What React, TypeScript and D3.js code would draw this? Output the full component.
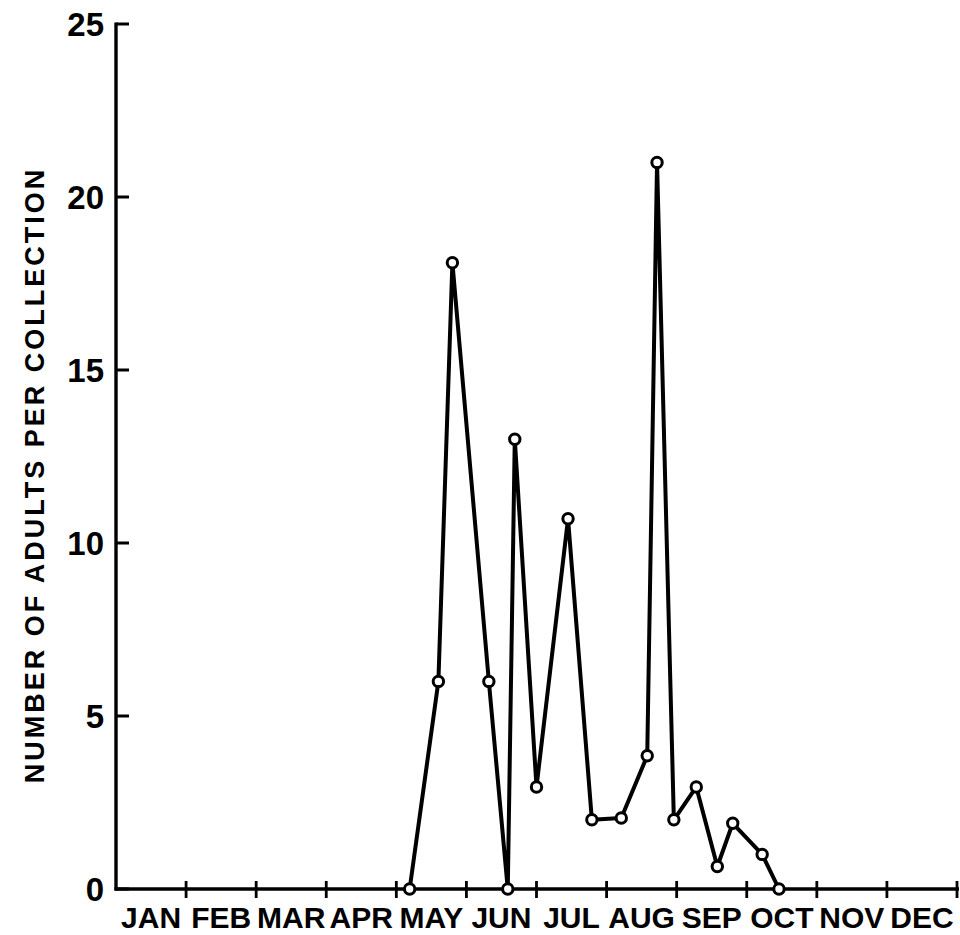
import React, { useEffect, useRef } from "react";
import * as d3 from "d3";

// Collection dates expressed in months since 1 January (0 = Jan 1, 12 = Dec 31)
const collectionMonth = [
  4.19, 4.6, 4.8, 5.32, 5.59, 5.69, 6.0, 6.45, 6.79, 7.21, 7.58, 7.72, 7.96,
  8.28, 8.58, 8.8, 9.22, 9.46,
];
// Number of adults per collection
const adultCount = [
  0, 6, 18.1, 6, 0, 13, 2.95, 10.7, 2, 2.05, 3.85, 21, 2, 2.95, 0.65, 1.9, 1, 0,
];
const monthLabels = [
  "JAN", "FEB", "MAR", "APR", "MAY", "JUN", "JUL", "AUG", "SEP", "OCT", "NOV", "DEC",
];
const yTicks = [0, 5, 10, 15, 20, 25];

const W = 960;
const H = 935;
const FONT = "'Liberation Sans', Arial, sans-serif";

export default function App() {
  const ref = useRef<SVGSVGElement | null>(null);

  useEffect(() => {
    const svg = d3.select(ref.current);
    svg.selectAll("*").remove();

    const x = d3.scaleLinear().domain([0, 12]).range([116, 957]);
    const y = d3.scaleLinear().domain([0, 25]).range([889, 24]);

    const g = svg.append("g");

    // Y axis line
    g.append("line")
      .attr("x1", x(0)).attr("x2", x(0))
      .attr("y1", y(25) - 1.5).attr("y2", y(0) + 1.5)
      .attr("stroke", "#000").attr("stroke-width", 3.4);

    // X axis line
    g.append("line")
      .attr("x1", x(0) - 1.5).attr("x2", x(12) + 2)
      .attr("y1", y(0)).attr("y2", y(0))
      .attr("stroke", "#000").attr("stroke-width", 3.4);

    // Y ticks (pointing inward) and labels
    yTicks.forEach((t) => {
      g.append("line")
        .attr("x1", x(0)).attr("x2", x(0) + 13)
        .attr("y1", y(t)).attr("y2", y(t))
        .attr("stroke", "#000").attr("stroke-width", 3);
      g.append("text")
        .attr("x", 104)
        .attr("y", y(t))
        .attr("dy", "0.36em")
        .attr("text-anchor", "end")
        .attr("font-family", FONT)
        .attr("font-weight", "bold")
        .attr("font-size", 33)
        .attr("fill", "#000")
        .text(String(t));
    });

    // X ticks at month boundaries (crossing the axis)
    d3.range(1, 13).forEach((m) => {
      g.append("line")
        .attr("x1", x(m)).attr("x2", x(m))
        .attr("y1", y(0) - 8).attr("y2", y(0) + 9)
        .attr("stroke", "#000").attr("stroke-width", 2.8);
    });

    // Month labels centred within each month
    monthLabels.forEach((lab, i) => {
      g.append("text")
        .attr("x", x(i + 0.5))
        .attr("y", 928)
        .attr("text-anchor", "middle")
        .attr("font-family", FONT)
        .attr("font-weight", "bold")
        .attr("font-size", 30)
        .attr("fill", "#000")
        .text(lab);
    });

    // Y axis title
    g.append("text")
      .attr("transform", `translate(44, 475) rotate(-90)`)
      .attr("text-anchor", "middle")
      .attr("font-family", FONT)
      .attr("font-weight", "bold")
      .attr("font-size", 27)
      .attr("letter-spacing", 3)
      .attr("fill", "#000")
      .text("NUMBER OF ADULTS PER COLLECTION");

    const pts = collectionMonth.map((m, i) => [m, adultCount[i]] as [number, number]);

    const line = d3.line<[number, number]>()
      .x((d) => x(d[0]))
      .y((d) => y(d[1]));

    g.append("path")
      .datum(pts)
      .attr("d", line)
      .attr("fill", "none")
      .attr("stroke", "#000")
      .attr("stroke-width", 4)
      .attr("stroke-linejoin", "round");

    g.selectAll("circle.pt")
      .data(pts)
      .enter()
      .append("circle")
      .attr("class", "pt")
      .attr("cx", (d) => x(d[0]))
      .attr("cy", (d) => y(d[1]))
      .attr("r", 5.2)
      .attr("fill", "#fff")
      .attr("stroke", "#000")
      .attr("stroke-width", 3);
  }, []);

  return (
    <svg
      ref={ref}
      width={W}
      height={H}
      style={{ position: "absolute", left: 0, top: 0, background: "#fff" }}
    />
  );
}
